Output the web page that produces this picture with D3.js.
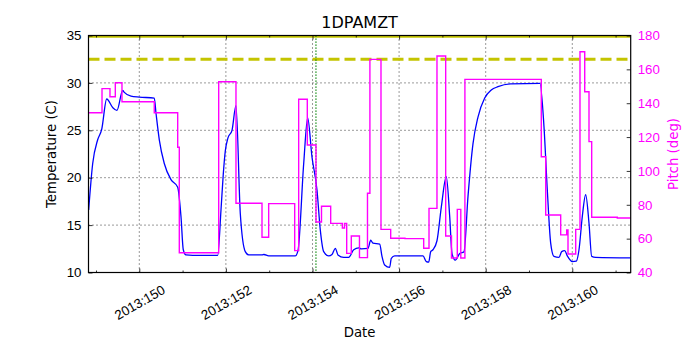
<!DOCTYPE html>
<html>
<head>
<meta charset="utf-8">
<script src="https://cdn.jsdelivr.net/npm/d3@7"></script>
<style>
  body { margin: 0; background: #fff; }
  svg { font-family: "DejaVu Sans", sans-serif; }
</style>
</head>
<body>
<script>
// day-of-year 2013 (fractional) and values
const tempTime = [148.831, 148.924, 149.039, 149.132, 149.247, 149.386, 149.485, 149.617, 149.654, 149.808,
  150.0, 150.346, 150.386, 150.462, 150.577, 150.732, 150.887, 150.963, 151.016, 151.079,
  151.233, 151.811, 151.887, 151.94, 151.986, 152.048, 152.141, 152.233, 152.333, 152.448,
  152.527, 152.834, 152.88, 152.988, 153.603, 153.665, 153.797, 153.889, 153.988, 154.104,
  154.18, 154.259, 154.374, 154.45, 154.527, 154.589, 154.721, 154.836, 154.952, 155.067,
  155.127, 155.282, 155.344, 155.397, 155.552, 155.605, 155.667, 155.783, 155.82, 155.898,
  156.552, 156.628, 156.684, 156.73, 156.783, 156.875, 156.975, 157.09, 157.169, 157.222,
  157.298, 157.4, 157.499, 157.591, 157.707, 157.822, 157.977, 158.129, 158.284, 158.577,
  159.254, 159.346, 159.423, 159.501, 159.577, 159.693, 159.755, 159.824, 159.885, 160.0,
  160.092, 160.155, 160.231, 160.309, 160.386, 160.448, 160.54, 161.349];
const tempValue = [16.6, 21.5, 24.0, 25.1, 28.3, 27.4, 27.1, 29.2, 29.0, 28.6,
  28.5, 28.4, 26.8, 24.0, 21.5, 19.8, 19.0, 15.9, 12.4, 11.85,
  11.8, 11.8, 16.6, 20.4, 22.8, 24.2, 25.0, 27.6, 16.2, 12.2,
  11.85, 11.85, 11.9, 11.75, 11.75, 12.3, 21.5, 26.3, 22.2, 18.7,
  14.5, 12.2, 11.75, 11.9, 12.55, 11.85, 11.6, 11.6, 12.4, 12.6,
  12.5, 12.55, 13.4, 13.1, 13.0, 11.7, 10.8, 10.55, 11.5, 11.75,
  11.75, 11.15, 11.1, 12.2, 12.4, 13.35, 16.9, 20.1, 15.9, 12.0,
  11.3, 12.0, 12.2, 18.0, 23.6, 26.4, 28.4, 29.25, 29.6, 29.9,
  29.96, 25.4, 18.7, 13.1, 11.7, 11.6, 12.2, 12.3, 11.75, 11.15,
  11.2, 12.4, 15.9, 18.2, 15.2, 11.7, 11.6, 11.55];

const pitchTime = [148.831, 149.139, 149.323, 149.446, 149.6, 150.346, 150.887, 150.924, 151.834, 152.233,
  152.834, 152.988, 153.589, 153.681, 153.88, 154.081, 154.208, 154.42, 154.69, 154.74,
  154.79, 154.896, 155.085, 155.27, 155.326, 155.582, 155.806, 156.136, 156.568, 156.691,
  156.875, 157.076, 157.21, 157.344, 157.425, 157.52, 159.284, 159.386, 159.732, 159.871,
  159.901, 160.079, 160.178, 160.287, 160.386, 160.448, 161.039, 161.349];
const pitchValue = [134.4, 148.6, 143.8, 152.1, 140.9, 134.4, 114.0, 51.7, 152.7, 80.9,
  60.8, 80.7, 52.9, 142.3, 115.3, 69.8, 79.1, 69.0, 66.3, 69.0,
  51.3, 61.6, 48.8, 86.8, 165.9, 65.5, 60.2, 60.0, 54.3, 77.9,
  167.9, 61.6, 48.6, 77.3, 48.6, 154.1, 108.4, 74.0, 62.2, 65.1,
  50.9, 65.5, 170.4, 146.8, 117.3, 72.6, 72.2, 72.2];

const tempLimits = [32.5, 35];
const eventTime = [154.08];
const xMajorTicks = [150, 152, 154, 156, 158, 160];
const xMinorTicks = [149, 151, 153, 155, 157, 159, 161];
const tempTicks = [10, 15, 20, 25, 30, 35];
const pitchTicks = [40, 60, 80, 100, 120, 140, 160, 180];

/********************************************************/
const svgWidth = 700;
const svgHeight = 350;
const margin = { top: 35.5, right: 69.3, bottom: 77.5, left: 88.5 };
const width = svgWidth - margin.left - margin.right;
const height = svgHeight - margin.top - margin.bottom;

const svg = d3.select("body").append("svg")
  .attr("width", svgWidth).attr("height", svgHeight);

svg.append("defs").append("clipPath").attr("id", "plotclip")
  .append("rect").attr("width", width).attr("height", height);

const g = svg.append("g").attr("transform", `translate(${margin.left},${margin.top})`);

const x = d3.scaleLinear().domain([148.827, 161.349]).range([0, width]);
const yT = d3.scaleLinear().domain([10, 35]).range([height, 0]);
const yP = d3.scaleLinear().domain([40, 180]).range([height, 0]);

// grid
g.append("g").selectAll("line").data(xMajorTicks).join("line")
  .attr("x1", d => x(d)).attr("x2", d => x(d)).attr("y1", 0).attr("y2", height)
  .attr("stroke", "#000").attr("stroke-width", 0.8).attr("stroke-dasharray", "1,3");
g.append("g").selectAll("line").data(tempTicks.slice(1, -1)).join("line")
  .attr("x1", 0).attr("x2", width).attr("y1", d => yT(d)).attr("y2", d => yT(d))
  .attr("stroke", "#000").attr("stroke-width", 0.8).attr("stroke-dasharray", "1,3");

const plot = g.append("g").attr("clip-path", "url(#plotclip)");

// limits
plot.selectAll(".limit").data(tempLimits).join("line")
  .attr("x1", 0).attr("x2", width)
  .attr("y1", d => yT(d) + (d === 35 ? 1.2 : 0)).attr("y2", d => yT(d) + (d === 35 ? 1.2 : 0))
  .attr("stroke", "#c4c400").attr("stroke-width", d => d === 35 ? 2 : 3)
  .attr("stroke-dasharray", d => d === 35 ? null : "11,5");

plot.selectAll(".event").data(eventTime).join("line")
  .attr("x1", d => x(d)).attr("x2", d => x(d)).attr("y1", 0).attr("y2", height)
  .attr("stroke", "#008000").attr("stroke-width", 1.3).attr("stroke-dasharray", "1.3,1.7");

const tempLine = d3.line().x(i => x(tempTime[i])).y(i => yT(tempValue[i])).curve(d3.curveMonotoneX);
plot.append("path").attr("d", tempLine(d3.range(tempTime.length)))
  .attr("fill", "none").attr("stroke", "#0000ff").attr("stroke-width", 1.3);

const pitchLine = d3.line().x(i => x(pitchTime[i])).y(i => yP(pitchValue[i])).curve(d3.curveStepAfter);
plot.append("path").attr("d", pitchLine(d3.range(pitchTime.length)))
  .attr("fill", "none").attr("stroke", "#ff00ff").attr("stroke-width", 1.4);

// axes (ticks inside)
function styleAxis(sel) {
  sel.select(".domain").remove();
  sel.selectAll("line").attr("stroke", "#000").attr("stroke-width", 0.8);
}
const fmt = d => "2013:" + d;
const bottomAxis = g.append("g").attr("transform", `translate(0,${height})`)
  .call(d3.axisBottom(x).tickValues(xMajorTicks).tickSize(-4).tickFormat(fmt));
styleAxis(bottomAxis);
bottomAxis.selectAll("text").attr("font-size", 13.3).attr("fill", "#000")
  .attr("y", 0).attr("dy", null)
  .attr("transform", "translate(0,30) rotate(-30)")
  .attr("text-anchor", "middle").attr("dominant-baseline", "central");
const bottomMinor = g.append("g").attr("transform", `translate(0,${height})`)
  .call(d3.axisBottom(x).tickValues(xMinorTicks).tickSize(-2).tickFormat(""));
styleAxis(bottomMinor);
const topAxis = g.append("g").call(d3.axisTop(x).tickValues(xMajorTicks).tickSize(-4).tickFormat(""));
styleAxis(topAxis);
const topMinor = g.append("g").call(d3.axisTop(x).tickValues(xMinorTicks).tickSize(-2).tickFormat(""));
styleAxis(topMinor);

const leftAxis = g.append("g").call(d3.axisLeft(yT).tickValues(tempTicks).tickSize(-4).tickPadding(7));
styleAxis(leftAxis);
leftAxis.selectAll("text").attr("font-size", 13.3).attr("fill", "#000");

const rightAxis = g.append("g").attr("transform", `translate(${width},0)`)
  .call(d3.axisRight(yP).tickValues(pitchTicks).tickSize(-4).tickPadding(7));
styleAxis(rightAxis);
rightAxis.selectAll("text").attr("font-size", 13.3).attr("fill", "#ff00ff");

// frame
g.append("rect").attr("width", width).attr("height", height)
  .attr("fill", "none").attr("stroke", "#000").attr("stroke-width", 1.2);

// labels
svg.append("text").attr("x", margin.left + width / 2).attr("y", 28)
  .attr("text-anchor", "middle").attr("font-size", 16).text("1DPAMZT");
svg.append("text").attr("x", margin.left + width / 2).attr("y", 337)
  .attr("text-anchor", "middle").attr("font-size", 13.3).text("Date");
svg.append("text").attr("transform", `translate(56,${margin.top + height / 2}) rotate(-90)`)
  .attr("text-anchor", "middle").attr("font-size", 13.3).text("Temperature (C)");
svg.append("text").attr("transform", `translate(678,${margin.top + height / 2}) rotate(-90)`)
  .attr("text-anchor", "middle").attr("font-size", 13.3).attr("fill", "#ff00ff").text("Pitch (deg)");
</script>
</body>
</html>
